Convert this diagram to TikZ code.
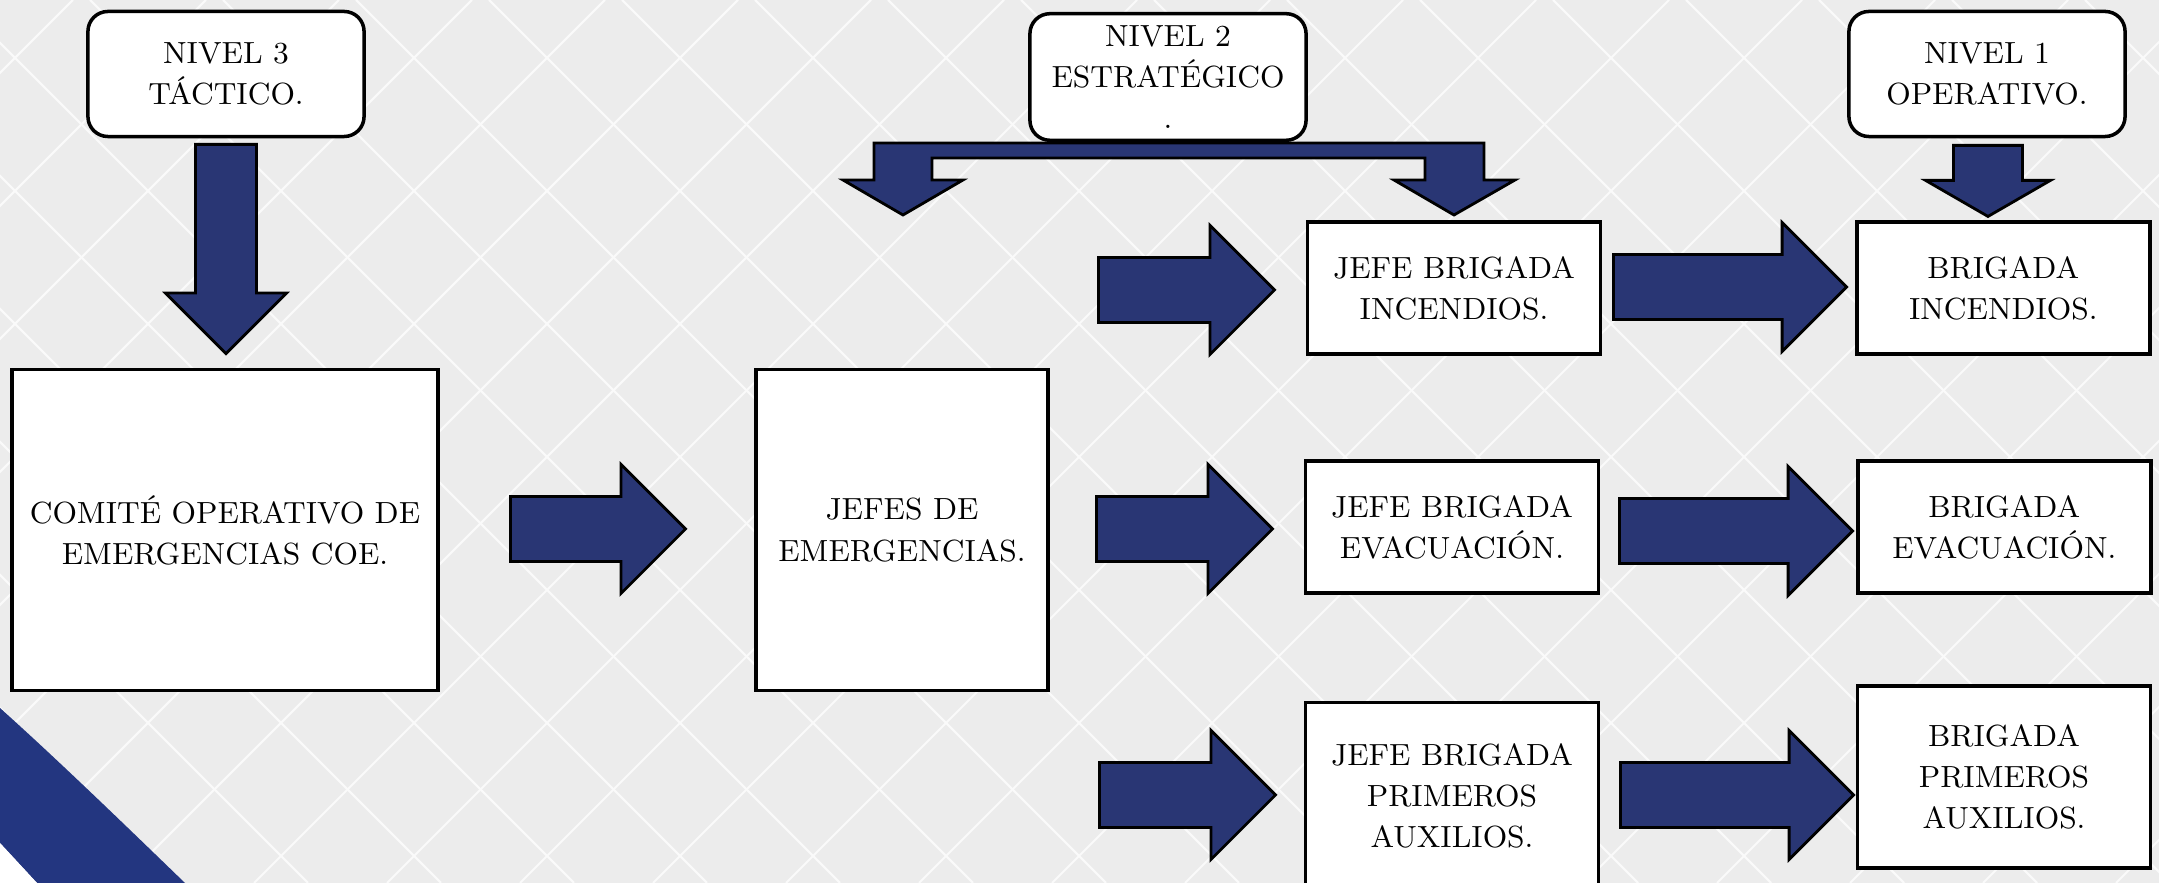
\documentclass[tikz,border=0pt]{standalone}
\usepackage{tikz}
\usetikzlibrary{shapes.arrows, positioning}

\definecolor{ArrowBlue}{RGB}{41,54,116}
\definecolor{SwooshBlue}{RGB}{35,54,128}
\definecolor{Paper}{RGB}{236,236,236}

\tikzstyle{Level} = [rectangle, 
                     rounded corners=0.2cm, 
                     minimum width=2.76cm, 
                     minimum height=1.25cm,
                     text centered, 
                     align=center,
                     draw=black, 
                     line width=1pt,
                     fill=white,
                     font=\fontsize{8.7}{11.7}\selectfont]
\tikzstyle{Box} = [rectangle, 
                   minimum width=2.93cm, 
                   minimum height=1.32cm,
                   text centered, 
                   align=center,
                   draw=black, 
                   line width=1pt,
                   fill=white,
                   font=\fontsize{8.7}{11.7}\selectfont]
\tikzstyle{Arrow_S} = [single arrow, 
                       draw=black, 
                       line width=0.8pt,
                       fill=ArrowBlue,
                       inner xsep=0pt,
                       inner ysep=0.31cm,
                       minimum height=1.76cm, 
                       single arrow head extend=0.32cm,
                       single arrow tip angle=90,
                       anchor=tail]
\tikzstyle{Arrow_L} = [Arrow_S, minimum height=2.33cm]

\begin{document}
\begin{tikzpicture}[x=0.01cm, y=-0.01cm]
        \useasboundingbox (0,0) rectangle (2159,883);
        \clip (0,0) rectangle (2159,883);

        % background
        \fill[Paper] (0,0) rectangle (2159,883);
        \foreach \k in {-8,...,16}
            \draw[white!75!Paper, line width=0.6pt] ({90+133*\k},0) -- ({973+133*\k},883);
        \foreach \k in {0,...,22}
            \draw[white!75!Paper, line width=0.6pt] ({73+133*\k},0) -- ({-810+133*\k},883);
        \fill[SwooshBlue] (0,708) .. controls (60,762) and (125,825) .. (185,883) -- (37,883) -- (0,843) -- cycle;
        \fill[white] (0,843) -- (37,883) -- (0,883) -- cycle;

        % levels
        \node (Nivel3) [Level] at (226,74) {NIVEL 3\\TÁCTICO.};
        \node (Nivel2) [Level, minimum height=1.18cm] at (1168,77) {NIVEL 2\\ESTRATÉGICO\\.};
        \node (Nivel1) [Level] at (1987,74) {NIVEL 1\\OPERATIVO.};

        % boxes
        \node (COE) [Box, minimum width=4.26cm, minimum height=3.21cm] at (225,530) {COMITÉ OPERATIVO DE\\EMERGENCIAS COE.};
        \node (Jefes) [Box, minimum width=2.92cm, minimum height=3.21cm] at (902,530) {JEFES DE\\EMERGENCIAS.};

        \node (JB_Inc) [Box] at (1454,288) {JEFE BRIGADA\\INCENDIOS.};
        \node (JB_Evac) [Box] at (1452,527) {JEFE BRIGADA\\EVACUACIÓN.};
        \node (JB_PA) [Box, minimum height=1.87cm] at (1452,796) {JEFE BRIGADA\\PRIMEROS\\AUXILIOS.};

        \node (B_Inc) [Box, right of=JB_Inc, xshift=4.49cm] {BRIGADA\\INCENDIOS.};
        \node (B_Evac) [Box, right of=JB_Evac, xshift=4.52cm] {BRIGADA\\EVACUACIÓN.};
        \node (B_PA) [Box, minimum height=1.82cm] at (2004,777) {BRIGADA\\PRIMEROS\\AUXILIOS.};

        % arrows
        \node (A_N3) [Arrow_S, rotate=270, minimum height=2.09cm, inner ysep=0.29cm, single arrow head extend=0.3cm] at (226,143) {};
        \node (A_N1) [Arrow_S, rotate=270, minimum height=0.71cm, inner ysep=0.33cm, single arrow head extend=0.28cm, single arrow tip angle=120] at (1988,144) {};

        \node (A_COE) [Arrow_S, minimum height=1.75cm] at (509,529) {};
        \node (A_Inc1) [Arrow_S] at (1097,290) {};
        \node (A_Evac1) [Arrow_S] at (1095,529) {};
        \node (A_PA1) [Arrow_S] at (1098,795) {};
        \node (A_Inc2) [Arrow_L] at (1612,287) {};
        \node (A_Evac2) [Arrow_L] at (1618,531) {};
        \node (A_PA2) [Arrow_L] at (1619,795) {};

        \draw[line width=0.8pt, fill=ArrowBlue] (874,143) -- (1484,143) -- (1484,180) -- (1515,180) -- (1454,215)
            -- (1394,180) -- (1425,180) -- (1425,158) -- (932,158) -- (932,180) -- (963,180) -- (903,215)
            -- (843,180) -- (874,180) -- cycle;
\end{tikzpicture}
\end{document}
